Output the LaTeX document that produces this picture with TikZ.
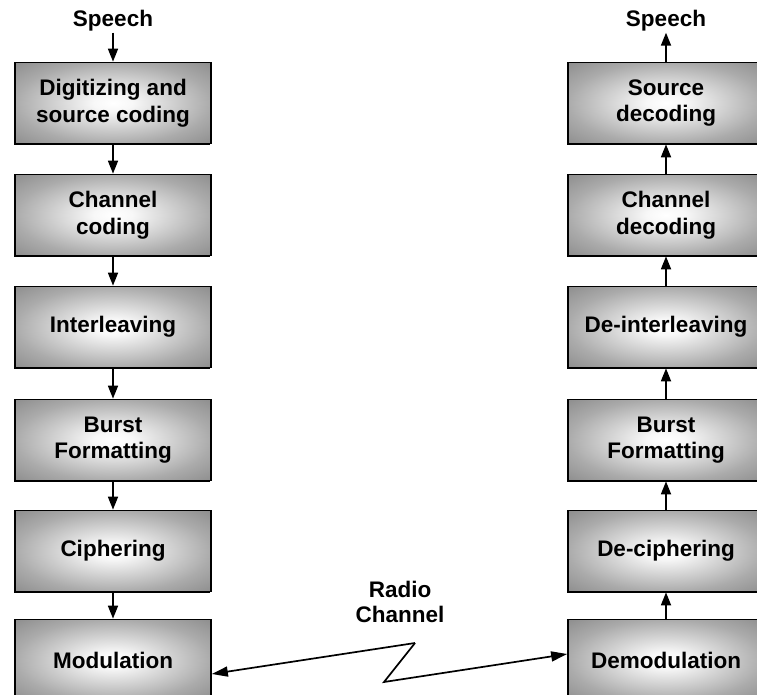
\documentclass[tikz,border=0pt]{standalone}
\usepackage{fontspec}
\setmainfont{Liberation Sans}
\usetikzlibrary{arrows.meta,shadows}
\pgfdeclareradialshading{boxshade}{\pgfpoint{0bp}{0bp}}{color(0bp)=(white); color(5bp)=(white!97!black); color(25bp)=(black!33); color(36bp)=(black!45); color(50bp)=(black!45)}
\begin{document}
\begin{tikzpicture}[x=1pt,y=-1pt,
  blk/.style={draw=black, line width=1.7pt, minimum width=196pt, minimum height=81pt,
    shading=boxshade, align=center, inner sep=0pt,
    drop shadow={shadow xshift=-1.3pt, shadow yshift=-1.3pt, fill=black, opacity=1},
    font=\fontsize{22.5}{26.5}\selectfont\bfseries},
  lbl/.style={align=center, inner sep=1pt, font=\fontsize{22.5}{22.5}\selectfont\bfseries},
  arr/.style={-{Triangle[length=13pt,width=10pt]}, line width=1.7pt},
  rarr/.style={-{Triangle[length=16pt,width=10pt]}, line width=1.7pt}]
\useasboundingbox (0,0) rectangle (757,695);
\clip (0,0) rectangle (757,695);
% left column
\node[lbl] (spin) at (113,21) {Speech};
\node[blk] (dig) at (113,103) {Digitizing and\\source coding};
\node[blk] (cc) at (113,215) {Channel\\coding};
\node[blk] (il) at (113,327) {Interleaving};
\node[blk] (bf) at (113,440) {Burst\\Formatting};
\node[blk] (ci) at (113,551) {Ciphering};
\node[blk] (mod) at (113,660) {Modulation};
% right column
\node[lbl] (spout) at (666,21) {Speech};
\node[blk] (sd) at (666,103) {Source\\decoding};
\node[blk] (cd) at (666,215) {Channel\\decoding};
\node[blk] (dil) at (666,327) {De-interleaving};
\node[blk] (dbf) at (666,440) {Burst\\Formatting};
\node[blk] (dci) at (666,551) {De-ciphering};
\node[blk] (dem) at (666,660) {Demodulation};
% radio channel
\node[lbl, font=\fontsize{22.5}{25}\selectfont\bfseries] (rc) at (400,602) {Radio\\Channel};
\coordinate (z1) at (415,643);
\coordinate (z2) at (384,682);
% arrows left
\draw[arr] (spin) -- (dig);
\draw[arr] (dig) -- (cc);
\draw[arr] (cc) -- (il);
\draw[arr] (il) -- (bf);
\draw[arr] (bf) -- (ci);
\draw[arr] (ci) -- (mod);
% arrows right
\draw[arr] (dem) -- (dci);
\draw[arr] (dci) -- (dbf);
\draw[arr] (dbf) -- (dil);
\draw[arr] (dil) -- (cd);
\draw[arr] (cd) -- (sd);
\draw[arr] (sd) -- (spout);
% zigzag
\draw[rarr] (z1) -- ([yshift=-14pt]mod.east);
\draw[rarr, line join=miter] (z1) -- (z2) -- ([yshift=6pt]dem.west);
\end{tikzpicture}
\end{document}
